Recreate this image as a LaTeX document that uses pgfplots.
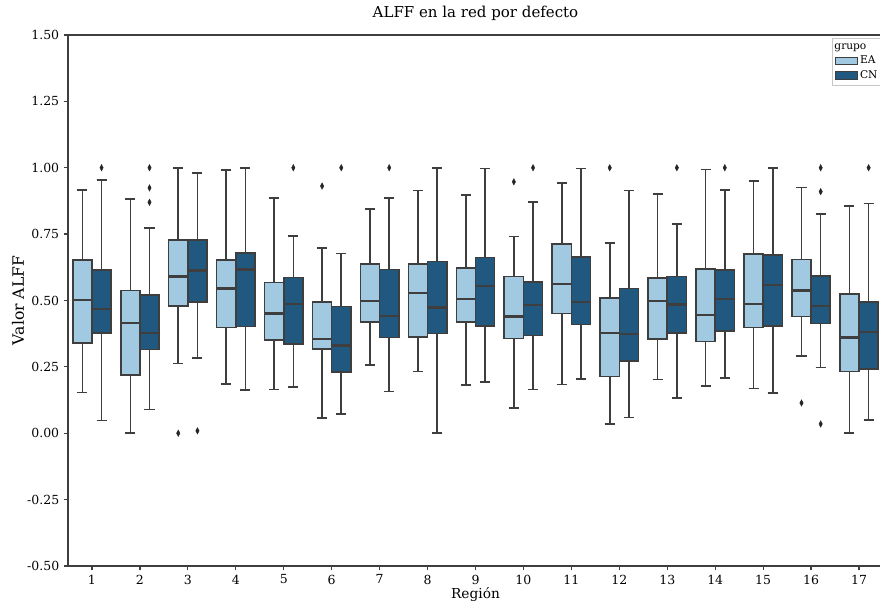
\documentclass[border=0pt]{standalone}
\usepackage{pgfplots}
\pgfplotsset{compat=1.18}
\usepgfplotslibrary{statistics}
\usetikzlibrary{calc}
\usepackage{fontspec}
\setmainfont{DejaVu Serif}
\definecolor{lightb}{RGB}{161,201,225}
\definecolor{darkb}{RGB}{33,88,128}
\definecolor{edge}{RGB}{62,62,62}
\pgfplotsset{
  ea/.style={draw=edge, fill=lightb, line width=1.3pt, mark=diamond*, mark size=2.6pt,
    mark options={xscale=0.7, fill=edge!60!black, draw=edge!60!black, line width=0.3pt}},
  cn/.style={draw=edge, fill=darkb, line width=1.3pt, mark=diamond*, mark size=2.6pt,
    mark options={xscale=0.7, fill=edge!60!black, draw=edge!60!black, line width=0.3pt}},
}
% \bx{style}{position}{lower whisker}{lower quartile}{median}{upper quartile}{upper whisker}{outliers}
\newcommand{\bx}[8]{\addplot[#1, boxplot prepared={draw position=#2, lower whisker=#3, lower quartile=#4, median=#5, upper quartile=#6, upper whisker=#7}] coordinates {#8};}
\begin{document}
\begin{tikzpicture}
\begin{axis}[
  name=ax,
  scale only axis,
  width=652pt, height=424.8pt,
  xmin=0.5, xmax=17.5, ymin=-0.5, ymax=1.5,
  axis x line*=box, axis y line*=left,
  xtick pos=left, ytick pos=left,
  axis line style={edge, line width=1.1pt},
  tick align=outside, major tick length=3.5pt,
  tick style={edge, line width=1.0pt},
  xtick={1,2,3,4,5,6,7,8,9,10,11,12,13,14,15,16,17},
  ytick={-0.5,-0.25,0,0.25,0.5,0.75,1,1.25,1.5},
  /pgf/number format/assume math mode=true,
  yticklabel style={/pgf/number format/fixed, /pgf/number format/fixed zerofill, /pgf/number format/precision=2},
  tick label style={font=\fontsize{10}{12}\selectfont},
  xlabel={Región}, ylabel={Valor ALFF},
  xlabel style={font=\fontsize{11}{13}\selectfont, at={(axis description cs:0.5,-0.0546)}, anchor=center},
  ylabel style={font=\fontsize{12.5}{14}\selectfont, at={(axis description cs:-0.0613,0.5)}, anchor=center},
  title={ALFF en la red por defecto},
  title style={font=\fontsize{12}{14}\selectfont, at={(axis description cs:0.5,1)}, anchor=base, yshift=8pt},
  boxplot/draw direction=y,
  boxplot/box extend=0.4,
  boxplot/whisker extend=0.21,
  boxplot/every median/.style={draw=edge, line width=1.9pt},
  legend style={at={(0.938,0.994)}, anchor=north west, draw=black!22, fill=white,
    font=\fontsize{8.5}{10}\selectfont, inner xsep=2pt, inner ysep=2pt, row sep=0pt},
  legend cell align=left,
  clip=false,
]
\addlegendimage{empty legend}\addlegendentry{\hspace*{-0.72cm}grupo}
\addlegendimage{area legend, fill=lightb, draw=edge, line width=0.8pt}\addlegendentry{EA}
\addlegendimage{area legend, fill=darkb, draw=edge, line width=0.8pt}\addlegendentry{CN}
% EA
\bx{ea}{0.8}{0.154}{0.341}{0.501}{0.653}{0.915}{}
\bx{ea}{1.8}{0.0}{0.219}{0.416}{0.538}{0.883}{}
\bx{ea}{2.8}{0.262}{0.480}{0.591}{0.728}{1.0}{(0,0.0)}
\bx{ea}{3.8}{0.185}{0.398}{0.545}{0.652}{0.991}{}
\bx{ea}{4.8}{0.165}{0.352}{0.451}{0.568}{0.885}{}
\bx{ea}{5.8}{0.058}{0.317}{0.355}{0.495}{0.698}{(0,0.931)}
\bx{ea}{6.8}{0.256}{0.419}{0.497}{0.637}{0.845}{}
\bx{ea}{7.8}{0.232}{0.363}{0.528}{0.637}{0.914}{}
\bx{ea}{8.8}{0.182}{0.420}{0.505}{0.622}{0.898}{}
\bx{ea}{9.8}{0.095}{0.357}{0.440}{0.590}{0.741}{(0,0.947)}
\bx{ea}{10.8}{0.184}{0.451}{0.563}{0.712}{0.942}{}
\bx{ea}{11.8}{0.035}{0.214}{0.377}{0.510}{0.717}{(0,1.0)}
\bx{ea}{12.8}{0.203}{0.356}{0.499}{0.585}{0.901}{}
\bx{ea}{13.8}{0.177}{0.346}{0.446}{0.619}{0.994}{}
\bx{ea}{14.8}{0.168}{0.398}{0.487}{0.675}{0.951}{}
\bx{ea}{15.8}{0.292}{0.440}{0.538}{0.654}{0.926}{(0,0.114)}
\bx{ea}{16.8}{0.0}{0.232}{0.360}{0.524}{0.856}{}
% CN
\bx{cn}{1.2}{0.048}{0.378}{0.467}{0.614}{0.954}{(0,1.0)}
\bx{cn}{2.2}{0.089}{0.315}{0.378}{0.520}{0.773}{(0,1.0) (0,0.924) (0,0.870)}
\bx{cn}{3.2}{0.283}{0.494}{0.613}{0.728}{0.981}{(0,0.009)}
\bx{cn}{4.2}{0.163}{0.402}{0.617}{0.679}{0.999}{}
\bx{cn}{5.2}{0.174}{0.336}{0.487}{0.586}{0.742}{(0,1.0)}
\bx{cn}{6.2}{0.073}{0.231}{0.331}{0.477}{0.677}{(0,1.0)}
\bx{cn}{7.2}{0.157}{0.361}{0.442}{0.617}{0.885}{(0,1.0)}
\bx{cn}{8.2}{0.0}{0.376}{0.474}{0.647}{1.0}{}
\bx{cn}{9.2}{0.192}{0.405}{0.554}{0.662}{0.997}{}
\bx{cn}{10.2}{0.165}{0.368}{0.482}{0.570}{0.870}{(0,1.0)}
\bx{cn}{11.2}{0.204}{0.410}{0.495}{0.664}{0.997}{}
\bx{cn}{12.2}{0.060}{0.273}{0.373}{0.545}{0.914}{}
\bx{cn}{13.2}{0.132}{0.378}{0.485}{0.591}{0.788}{(0,1.0)}
\bx{cn}{14.2}{0.207}{0.385}{0.506}{0.614}{0.916}{(0,1.0)}
\bx{cn}{15.2}{0.152}{0.405}{0.559}{0.672}{0.999}{}
\bx{cn}{16.2}{0.247}{0.414}{0.480}{0.593}{0.825}{(0,1.0) (0,0.910) (0,0.035)}
\bx{cn}{17.2}{0.050}{0.243}{0.381}{0.494}{0.865}{(0,1.0)}
\end{axis}
\pgfresetboundingbox
\path[use as bounding box] ($(ax.south west)+(-54.4pt,-30.4pt)$) rectangle ($(ax.north west)+(649.6pt,28pt)$);
\end{tikzpicture}
\end{document}
